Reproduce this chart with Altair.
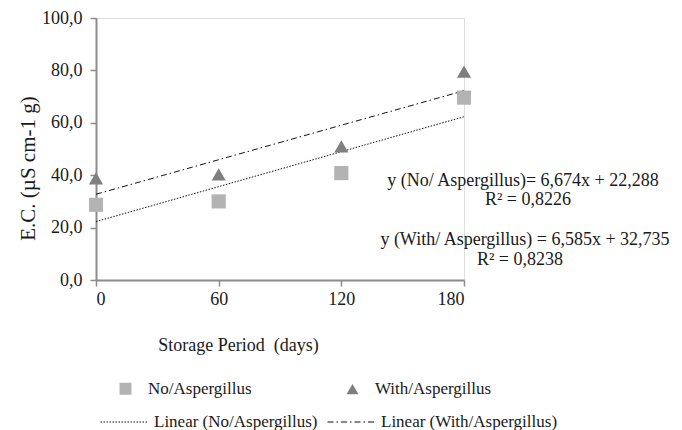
import altair as alt
import pandas as pd

# ---- data ----
days = [0, 60, 120, 180]
no_asp = [28.7, 30.0, 40.8, 69.6]
with_asp = [38.8, 40.3, 51.0, 79.5]
series_names = ["No/Aspergillus", "With/Aspergillus"]
trend_names = ["Linear (No/Aspergillus)", "Linear (With/Aspergillus)"]
slopes = [6.674, 6.585]        # per 30-day step (Excel equation)
intercepts = [22.288, 32.735]
eq_texts = [
    "y (No/ Aspergillus)= 6,674x + 22,288",
    "R\u00b2 = 0,8226",
    "y (With/ Aspergillus) = 6,585x + 32,735",
    "R\u00b2 = 0,8238",
]
y_ticks = [0, 20, 40, 60, 80, 100]

FONT = "Liberation Serif"

pts = pd.DataFrame(
    [{"days": d, "ec": v, "series": series_names[0]} for d, v in zip(days, no_asp)]
    + [{"days": d, "ec": v, "series": series_names[1]} for d, v in zip(days, with_asp)]
)

line_rows = []
for name, a, b in zip(trend_names, slopes, intercepts):
    for d in (days[0], days[-1]):
        line_rows.append({"days": d, "ec": a * d / 30.0 + b, "trend": name})
lines = pd.DataFrame(line_rows)

xscale = alt.Scale(domain=[0, 180], nice=False, zero=False)
yscale = alt.Scale(domain=[0, 100], nice=False)

axis_common = dict(
    domainColor="#8c8c8c", domainWidth=2, tickColor="#8c8c8c", tickWidth=1.5,
    tickSize=6, grid=False, labelFont=FONT, labelFontSize=18, labelColor="#1a1a1a",
    titleFont=FONT, titleFontWeight="normal", titleColor="#1a1a1a",
)

x_enc = alt.X(
    "days:Q", scale=xscale,
    axis=alt.Axis(values=days, format="d", labelPadding=4,
                  title="Storage Period\u00a0 (days)", titleFontSize=18,
                  titleX=142, titleY=65, titleAlign="center", titleBaseline="middle",
                  **axis_common),
)
y_enc = alt.Y(
    "ec:Q", scale=yscale,
    axis=alt.Axis(values=y_ticks, labelExpr="replace(format(datum.value, '.1f'), '.', ',')",
                  labelPadding=8, title="E.C. (\u00b5S cm-1 g)", titleFontSize=21,
                  titleX=-68, titleY=150, titleAngle=-90, titleAlign="center",
                  titleBaseline="middle", **axis_common),
)

trend_layer = alt.Chart(lines).mark_line(color="#111111", strokeWidth=1).encode(
    x=x_enc,
    y=y_enc,
    detail="trend:N",
    strokeDash=alt.StrokeDash(
        "trend:N",
        scale=alt.Scale(domain=trend_names, range=[[1.5, 1.5], [6, 3, 1.5, 3]]),
        legend=alt.Legend(
            title=None, orient="none", legendX=4, legendY=380, direction="horizontal",
            symbolType="stroke", symbolSize=2209, symbolStrokeColor="#111111",
            symbolStrokeWidth=1, labelFont=FONT, labelFontSize=17, labelColor="#1a1a1a",
            labelOffset=6, columnPadding=7, labelLimit=400,
        ),
    ),
)

point_layer = alt.Chart(pts).mark_point(filled=True, opacity=1, size=200).encode(
    x=x_enc,
    y=y_enc,
    color=alt.Color(
        "series:N",
        scale=alt.Scale(domain=series_names, range=["#b3b3b3", "#7f7f7f"]),
        legend=alt.Legend(
            title=None, orient="none", legendX=21, legendY=362, direction="horizontal",
            symbolSize=144, labelFont=FONT, labelFontSize=17, labelColor="#1a1a1a",
            labelOffset=14, columnPadding=91, labelLimit=400, symbolOpacity=1,
        ),
    ),
    shape=alt.Shape(
        "series:N",
        scale=alt.Scale(domain=series_names, range=["square", "triangle-up"]),
    ),
)

eq_df = pd.DataFrame({"t": eq_texts, "px": [427, 432, 429, 424], "py": [163, 182, 222, 242]})
eq_layer = alt.Chart(eq_df).mark_text(
    font=FONT, fontSize=18, color="#1a1a1a", align="center", baseline="middle"
).encode(
    text="t:N",
    x=alt.X("px:Q", scale=None),
    y=alt.Y("py:Q", scale=None),
)

chart = alt.layer(trend_layer, point_layer, eq_layer).resolve_scale(
    x="shared", y="shared"
).properties(
    width=368, height=262,
    padding={"left": 88, "top": 10, "right": 210, "bottom": 150},
    autosize=alt.AutoSizeParams(type="none"),
).configure_view(stroke=None).configure(background="white")

chart.save("out.html", embed_options={"renderer": "svg", "actions": False})
